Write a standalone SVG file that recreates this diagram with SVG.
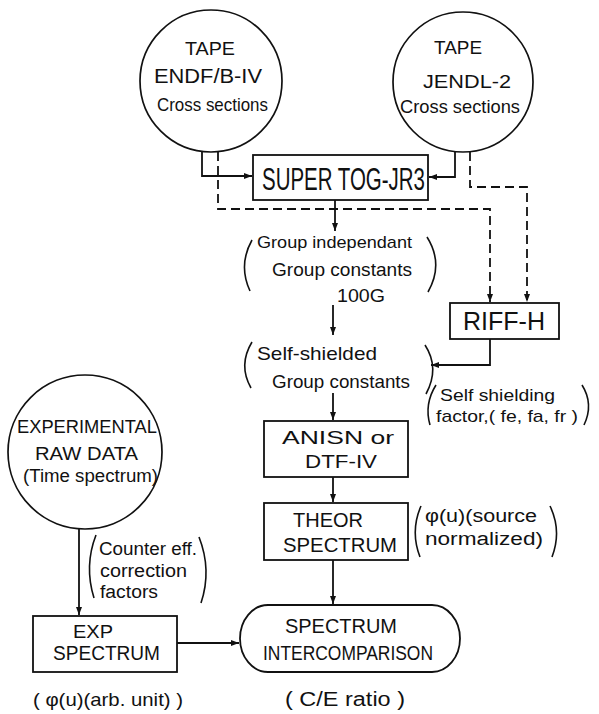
<svg xmlns="http://www.w3.org/2000/svg" width="599" height="714" viewBox="0 0 599 714">
<style>
text{font-family:"Liberation Sans",Arial,sans-serif;fill:#111;}
.n{fill:none;stroke:#111;stroke-width:1.8;}
.c{fill:none;stroke:#111;stroke-width:1.7;}
.l{fill:none;stroke:#111;stroke-width:1.8;}
.d{fill:none;stroke:#111;stroke-width:1.8;stroke-dasharray:9 5;}
.p{fill:none;stroke:#111;stroke-width:1.6;}
</style>
<defs>
<marker id="ah" markerUnits="userSpaceOnUse" markerWidth="9" markerHeight="7" refX="8" refY="3.5" orient="auto">
<path d="M0,0.5 L8,3.5 L0,6.5 z" fill="#111"/>
</marker>
</defs>
<rect width="599" height="714" fill="#fff"/>

<g id="tape-endf">
<circle class="c" cx="211" cy="81" r="71"/>
<text x="185" y="55" font-size="18" textLength="50" lengthAdjust="spacingAndGlyphs">TAPE</text>
<text x="154" y="83" font-size="20" textLength="108" lengthAdjust="spacingAndGlyphs">ENDF/B-IV</text>
<text x="157" y="111" font-size="19" textLength="111" lengthAdjust="spacingAndGlyphs">Cross sections</text>
</g>

<g id="tape-jendl">
<circle class="c" cx="463" cy="82" r="70"/>
<text x="434" y="54" font-size="18" textLength="48" lengthAdjust="spacingAndGlyphs">TAPE</text>
<text x="423" y="88" font-size="19" textLength="88" lengthAdjust="spacingAndGlyphs">JENDL-2</text>
<text x="400" y="113" font-size="19" textLength="120" lengthAdjust="spacingAndGlyphs">Cross sections</text>
</g>

<g id="supertog">
<rect class="n" x="253" y="155" width="175" height="45"/>
<text x="262" y="190" font-size="31" textLength="163" lengthAdjust="spacingAndGlyphs">SUPER TOG-JR3</text>
</g>

<g id="group-independent">
<path class="p" d="M252,240 Q238,265 250,291"/>
<text x="257" y="248" font-size="17" textLength="155" lengthAdjust="spacingAndGlyphs">Group independant</text>
<text x="272" y="276" font-size="19" textLength="140" lengthAdjust="spacingAndGlyphs">Group constants</text>
<text x="337" y="302" font-size="19" textLength="48" lengthAdjust="spacingAndGlyphs">100G</text>
<path class="p" d="M427,237 Q444,264 428,292"/>
</g>

<g id="riff-h">
<rect class="n" x="450" y="303" width="109" height="36"/>
<text x="463" y="330" font-size="25" textLength="82" lengthAdjust="spacingAndGlyphs">RIFF-H</text>
</g>

<g id="self-shielded">
<path class="p" d="M252,342 Q238,365 251,388"/>
<text x="257" y="360" font-size="19" textLength="120" lengthAdjust="spacingAndGlyphs">Self-shielded</text>
<text x="272" y="388" font-size="19" textLength="138" lengthAdjust="spacingAndGlyphs">Group constants</text>
<path class="p" d="M425,345 Q440,368 426,394"/>
</g>

<g id="self-shielding-factor">
<path class="p" d="M436,385 Q424,404 430,425"/>
<text x="440" y="401" font-size="17" textLength="115" lengthAdjust="spacingAndGlyphs">Self shielding</text>
<text x="436" y="422" font-size="17" textLength="142" lengthAdjust="spacingAndGlyphs">factor,( fe, fa, fr )</text>
<path class="p" d="M582,385 Q594,404 584,425"/>
</g>

<g id="anisn">
<rect class="n" x="264" y="421" width="144" height="56"/>
<text x="282" y="444" font-size="19" textLength="112" lengthAdjust="spacingAndGlyphs">ANISN or</text>
<text x="305" y="468" font-size="19" textLength="72" lengthAdjust="spacingAndGlyphs">DTF-IV</text>
</g>

<g id="theor">
<rect class="n" x="264" y="503" width="144" height="57"/>
<text x="293" y="527" font-size="20" textLength="70" lengthAdjust="spacingAndGlyphs">THEOR</text>
<text x="283" y="552" font-size="20" textLength="114" lengthAdjust="spacingAndGlyphs">SPECTRUM</text>
</g>

<g id="theor-note">
<path class="p" d="M421,506 Q410,531 420,557"/>
<text x="425" y="522" font-size="18" textLength="112" lengthAdjust="spacingAndGlyphs">φ(u)(source</text>
<text x="425" y="545" font-size="18" textLength="118" lengthAdjust="spacingAndGlyphs">normalized)</text>
<path class="p" d="M550,506 Q562,531 552,557"/>
</g>

<g id="exp-raw">
<circle class="c" cx="85" cy="452" r="77"/>
<text x="17" y="433" font-size="18" textLength="140" lengthAdjust="spacingAndGlyphs">EXPERIMENTAL</text>
<text x="35" y="460" font-size="19" textLength="103" lengthAdjust="spacingAndGlyphs">RAW DATA</text>
<text x="23" y="482" font-size="18" textLength="135" lengthAdjust="spacingAndGlyphs">(Time spectrum)</text>
</g>

<g id="counter-note">
<path class="p" d="M96,535 Q84,566 94,598"/>
<text x="99" y="555" font-size="18" textLength="98" lengthAdjust="spacingAndGlyphs">Counter eff.</text>
<text x="100" y="577" font-size="18" textLength="87" lengthAdjust="spacingAndGlyphs">correction</text>
<text x="100" y="598" font-size="18" textLength="58" lengthAdjust="spacingAndGlyphs">factors</text>
<path class="p" d="M199,537 Q212,570 201,603"/>
</g>

<g id="exp-spectrum">
<rect class="n" x="33" y="616" width="144" height="56"/>
<text x="73" y="638" font-size="19" textLength="40" lengthAdjust="spacingAndGlyphs">EXP</text>
<text x="53" y="660" font-size="20" textLength="107" lengthAdjust="spacingAndGlyphs">SPECTRUM</text>
<text x="33" y="706" font-size="19" textLength="150" lengthAdjust="spacingAndGlyphs">( φ(u)(arb. unit) )</text>
</g>

<g id="intercomparison">
<path class="n" d="M268,605 H432 A28,33.5 0 0 1 432,672 H268 A28,33.5 0 0 1 268,605 Z"/>
<text x="285" y="633" font-size="20" textLength="112" lengthAdjust="spacingAndGlyphs">SPECTRUM</text>
<text x="263" y="660" font-size="20" textLength="170" lengthAdjust="spacingAndGlyphs">INTERCOMPARISON</text>
<text x="285" y="706" font-size="20" textLength="120" lengthAdjust="spacingAndGlyphs">( C/E ratio )</text>
</g>

<g id="connectors">
<path class="l" d="M202,152 V176 H252" marker-end="url(#ah)"/>
<path class="l" d="M455,152 V177 H429" marker-end="url(#ah)"/>
<path class="d" d="M218,152 V209 H490 V302" marker-end="url(#ah)"/>
<path class="d" d="M470,152 V187 H527 V302" marker-end="url(#ah)"/>
<path class="l" d="M335,200 V231" marker-end="url(#ah)"/>
<path class="l" d="M333,305 V335" marker-end="url(#ah)"/>
<path class="l" d="M490,339 V365 H431" marker-end="url(#ah)"/>
<path class="l" d="M333,393 V420" marker-end="url(#ah)"/>
<path class="l" d="M333,477 V502" marker-end="url(#ah)"/>
<path class="l" d="M333,560 V604" marker-end="url(#ah)"/>
<path class="l" d="M79,529 V615" marker-end="url(#ah)"/>
<path class="l" d="M177,643 H239" marker-end="url(#ah)"/>
</g>
</svg>
